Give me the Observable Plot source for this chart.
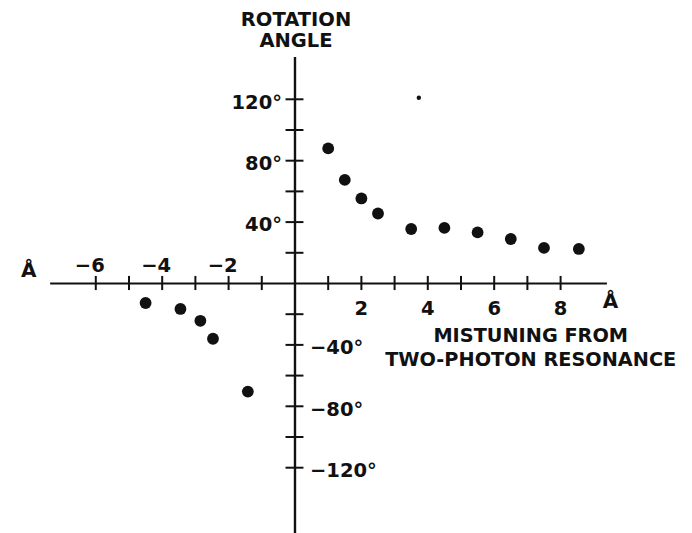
<!DOCTYPE html>
<html>
<head>
<meta charset="utf-8">
<script src="https://cdn.jsdelivr.net/npm/d3@7"></script>
<script src="https://cdn.jsdelivr.net/npm/@observablehq/plot@0.6"></script>
<style>
  html, body { margin: 0; padding: 0; background: #fff; }
  svg { display: block; }
</style>
</head>
<body>
<div id="chart"></div>
<script>
// Mistuning (Å) and rotation angle (degrees)
const mistuningPos = [1.0, 1.5, 2.0, 2.5, 3.5, 4.5, 5.5, 6.5, 7.5, 8.55];
const anglePos     = [88, 67.5, 55.4, 45.6, 35.5, 36.2, 33.3, 29, 23.2, 22.5];
const mistuningNeg = [-4.5, -3.45, -2.85, -2.47, -1.42];
const angleNeg     = [-12.7, -16.6, -24.3, -36, -70.4];
const speckX = [3.73];
const speckY = [121];

const xTicks = [-6, -5, -4, -3, -2, -1, 1, 2, 3, 4, 5, 6, 7, 8];
const xTickLabelsNeg = [-6, -4, -2];
const xTickLabelsPos = [2, 4, 6, 8];
const yTicks = [-120, -100, -80, -60, -40, -20, 20, 40, 60, 80, 100, 120];
const yTickLabelsPos = [40, 80, 120];
const yTickLabelsNeg = [-40, -80, -120];

const points = [
  ...mistuningPos.map((x, i) => ({x, y: anglePos[i]})),
  ...mistuningNeg.map((x, i) => ({x, y: angleNeg[i]}))
];
const specks = speckX.map((x, i) => ({x, y: speckY[i]}));

const font = "DejaVu Sans";
const fmtDeg = v => (v < 0 ? "\u2212" + Math.abs(v) : String(v)) + "\u00b0";
const fmtX = v => (v < 0 ? "\u2212" + Math.abs(v) : String(v));
const lbl = {fontSize: 19.5, fontWeight: "bold", fill: "#111", letterSpacing: "1px"};

const chart = Plot.plot({
  width: 692,
  height: 533,
  margin: 0,
  style: {fontFamily: font, background: "#fff", color: "#111"},
  x: {domain: [-8.870, 11.973], axis: null},
  y: {domain: [-162.87, 184.36], axis: null},
  marks: [
    // axes lines
    Plot.ruleY([0], {x1: -7.36, x2: 9.41, stroke: "#111", strokeWidth: 2.2}),
    Plot.ruleX([0], {y1: -162.87, y2: 147.2, stroke: "#111", strokeWidth: 2.4}),
    // crossing ticks
    Plot.ruleX(xTicks, {y1: -4.6, y2: 4.6, stroke: "#111", strokeWidth: 2}),
    Plot.ruleY(yTicks, {x1: -0.27, x2: 0.27, stroke: "#111", strokeWidth: 2}),
    // x tick labels
    Plot.text(xTickLabelsNeg, {x: d => d, y: 0, text: fmtX, dy: -18, dx: -6, ...lbl}),
    Plot.text(xTickLabelsPos, {x: d => d, y: 0, text: fmtX, dy: 25, ...lbl}),
    // y tick labels
    Plot.text(yTickLabelsPos, {x: 0, y: d => d, text: fmtDeg, dx: -13, dy: 3, textAnchor: "end", ...lbl}),
    Plot.text(yTickLabelsNeg, {x: 0, y: d => d, text: fmtDeg, dx: 15, dy: 3, textAnchor: "start", ...lbl}),
    // unit labels
    Plot.text(["Å"], {x: -7.36, y: 0, dx: -22, dy: -13, fontSize: 20, fontWeight: "bold", fill: "#111"}),
    Plot.text(["Å"], {x: 9.41, y: 0, dx: 3, dy: 18, fontSize: 20, fontWeight: "bold", fill: "#111"}),
    // axis titles
    Plot.text(["ROTATION\nANGLE"], {x: 0, dx: 1, frameAnchor: "top", dy: 10, lineHeight: 1.1, fontSize: 19.5, fontWeight: "bold", fill: "#111", letterSpacing: "1.3px"}),
    Plot.text(["MISTUNING FROM\nTWO-PHOTON RESONANCE"], {x: 7.1, y: -41, lineHeight: 1.22, fontSize: 19.3, fontWeight: "bold", fill: "#111", letterSpacing: "0.8px"}),
    // data
    Plot.dot(points, {x: "x", y: "y", r: 5.9, fill: "#111", stroke: "none"}),
    Plot.dot(specks, {x: "x", y: "y", r: 2.2, fill: "#111", stroke: "none"})
  ]
});
document.getElementById("chart").append(chart);
</script>
</body>
</html>
